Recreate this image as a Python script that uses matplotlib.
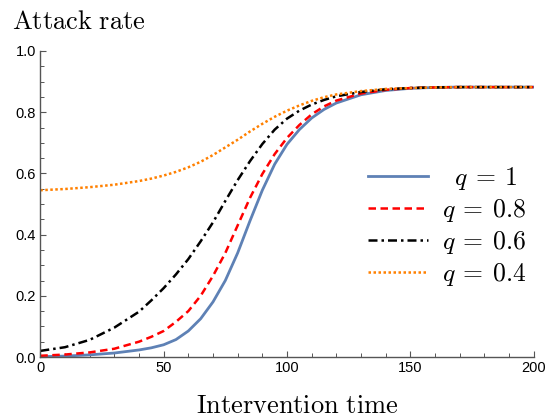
import matplotlib
matplotlib.use("Agg")
import matplotlib.pyplot as plt
from matplotlib.ticker import MultipleLocator

plt.rcParams['mathtext.fontset'] = 'cm'

# intervention time grid
t = [0, 10, 20, 30, 40, 45, 50, 55, 60, 65, 70, 75, 80, 85, 90, 95, 100,
     105, 110, 115, 120, 130, 140, 150, 160, 170, 180, 190, 200]

# attack rate for each q
q1 = [0.001, 0.003, 0.007, 0.013, 0.023, 0.03, 0.04, 0.057, 0.085, 0.125, 0.18,
      0.25, 0.34, 0.445, 0.545, 0.63, 0.695, 0.743, 0.781, 0.809, 0.83, 0.857,
      0.871, 0.878, 0.881, 0.882, 0.882, 0.882, 0.882]
q08 = [0.004, 0.008, 0.015, 0.027, 0.05, 0.066, 0.085, 0.115, 0.15, 0.2, 0.265,
       0.34, 0.43, 0.52, 0.598, 0.663, 0.716, 0.758, 0.793, 0.819, 0.838, 0.861,
       0.873, 0.879, 0.881, 0.882, 0.882, 0.882, 0.882]
q06 = [0.02, 0.032, 0.056, 0.096, 0.148, 0.185, 0.225, 0.27, 0.32, 0.378, 0.44,
       0.51, 0.578, 0.64, 0.696, 0.743, 0.779, 0.805, 0.825, 0.84, 0.852, 0.866,
       0.875, 0.879, 0.881, 0.882, 0.882, 0.882, 0.882]
q04 = [0.545, 0.549, 0.555, 0.563, 0.575, 0.583, 0.593, 0.605, 0.62, 0.638, 0.66,
       0.685, 0.71, 0.737, 0.762, 0.785, 0.805, 0.822, 0.837, 0.849, 0.858, 0.869,
       0.876, 0.879, 0.881, 0.882, 0.882, 0.882, 0.882]

labels = [r'$\;\;q\:=\:1$', r'$q\:=\:0.8$', r'$q\:=\:0.6$', r'$q\:=\:0.4$']

fig = plt.figure(figsize=(5.52, 4.19), dpi=100)
ax = fig.add_axes([40.3 / 552, (419 - 357) / 419, 493.4 / 552, 306 / 419])

ax.plot(t, q1, color='#5E81B5', lw=2.0, label=labels[0])
ax.plot(t, q08, color='red', lw=1.8, ls=(0, (3, 1.8)), label=labels[1])
ax.plot(t, q06, color='black', lw=1.8, ls=(0, (3.6, 1.6, 1, 1.6)), label=labels[2])
ax.plot(t, q04, color='#FF8000', lw=1.8, ls=(0, (1, 1)), label=labels[3])

ax.set_xlim(0, 200)
ax.set_ylim(0, 1)
ax.spines['top'].set_visible(False)
ax.spines['right'].set_visible(False)
for s in ['left', 'bottom']:
    ax.spines[s].set_color('#555555')
    ax.spines[s].set_linewidth(1.0)

ax.xaxis.set_major_locator(MultipleLocator(50))
ax.xaxis.set_minor_locator(MultipleLocator(10))
ax.yaxis.set_major_locator(MultipleLocator(0.2))
ax.yaxis.set_minor_locator(MultipleLocator(0.05))
ax.tick_params(which='major', direction='in', length=4.5, width=0.8, color='#555555',
               labelsize=10.5, pad=3)
ax.tick_params(which='minor', direction='in', length=2.6, width=0.7, color='#555555')
for lab in ax.get_xticklabels() + ax.get_yticklabels():
    lab.set_fontfamily('Liberation Sans')
ax.yaxis.set_major_formatter(matplotlib.ticker.FormatStrFormatter('%.1f'))

leg = ax.legend(loc='center left', bbox_to_anchor=(0.664, 0.426), frameon=False,
                fontsize=18.5, handlelength=2.35, handletextpad=0.55, borderpad=0,
                borderaxespad=0, labelspacing=0.2)

fig.text(12 / 552, (419 - 29) / 419, r'$\mathrm{Attack\ rate}$', fontsize=19,
         va='baseline', ha='left')
fig.text(297 / 552, (419 - 413) / 419, r'$\mathrm{Intervention\ time}$', fontsize=19,
         va='baseline', ha='center')

fig.savefig('out.png', dpi=100)
